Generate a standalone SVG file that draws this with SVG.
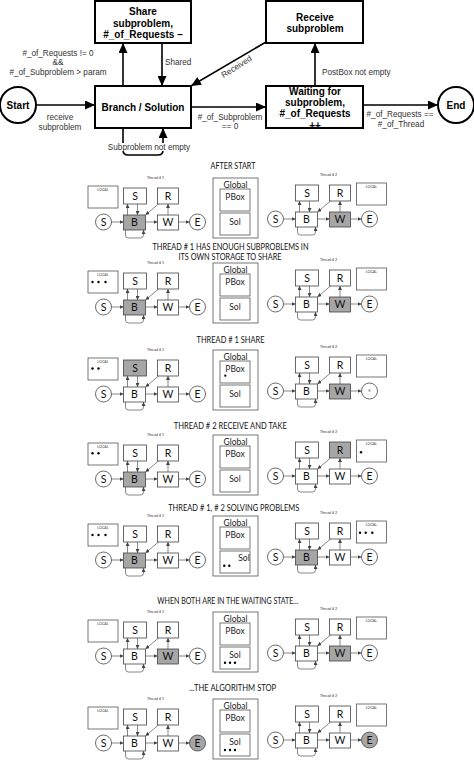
<svg xmlns="http://www.w3.org/2000/svg" xmlns:xlink="http://www.w3.org/1999/xlink" width="474" height="761" viewBox="0 0 474 761">
<style>
.bx{fill:#fff;stroke:#000;stroke-width:2}
.ln{fill:none;stroke:#000;stroke-width:1.6}
.bt{font-family:"Liberation Sans",Arial,sans-serif;font-weight:bold;font-size:10px;text-anchor:middle;fill:#000}
.lb{font-family:"Liberation Sans",Arial,sans-serif;font-size:8.2px;fill:#333}
.mid{text-anchor:middle}
.pm rect,.pm circle{fill:none;stroke:#444;stroke-width:0.8}
.pa{fill:none;stroke:#555;stroke-width:0.7}
.pl{font-family:Lato,"Open Sans",sans-serif;font-size:10.5px;text-anchor:middle;fill:#111}
.gb{fill:none;stroke:#555;stroke-width:0.8}
.gt{font-family:Lato,"Open Sans",sans-serif;font-size:8.5px;text-anchor:middle;fill:#222}
.tt{font-family:Lato,"Open Sans",sans-serif;font-size:8.5px;text-anchor:middle;fill:#111}
.tiny{font-family:Lato,"Open Sans",sans-serif;font-size:3.6px;text-anchor:middle;fill:#333}
.hl{fill:#a6a6a6;stroke:none}
.dot{fill:#000}
</style>
<defs>
<marker id="ah" markerUnits="userSpaceOnUse" markerWidth="10" markerHeight="9" refX="10" refY="4.5" orient="auto"><path d="M0,0 L10,4.5 L0,9 z" fill="#000"/></marker>
<marker id="sa" markerUnits="userSpaceOnUse" markerWidth="4" markerHeight="4" refX="4" refY="2" orient="auto"><path d="M0,0 L4,2 L0,4 z" fill="#444"/></marker>
<g id="thr" class="pm">
<circle cx="0" cy="0" r="8"/>
<rect x="20" y="-7" width="22" height="15"/>
<rect x="54" y="-7" width="21" height="15"/>
<circle cx="94" cy="0" r="8"/>
<rect x="20" y="-34" width="23" height="16"/>
<rect x="54" y="-34" width="21" height="16"/>
<path class="pa" d="M8 0H20" marker-end="url(#sa)"/>
<path class="pa" d="M42 0H54" marker-end="url(#sa)"/>
<path class="pa" d="M75 0H86" marker-end="url(#sa)"/>
<path class="pa" d="M24 -7V-18" marker-end="url(#sa)"/>
<path class="pa" d="M34 -18V-7" marker-end="url(#sa)"/>
<path class="pa" d="M55 -18L42 -7" marker-end="url(#sa)"/>
<path class="pa" d="M64.5 -7V-18" marker-end="url(#sa)"/>
<path class="pa" d="M22 8V13Q22 16 25 16H37Q40 16 40 13V8" marker-end="url(#sa)"/>
<text class="pl" x="0" y="3.8">S</text>
<text class="pl" x="31" y="3.8">B</text>
<text class="pl" x="64.5" y="3.8">W</text>
<text class="pl" x="31.5" y="-22.2">S</text>
<text class="pl" x="64.5" y="-22.2">R</text>
</g>
<g id="glob">
<rect class="gb" x="213" y="-44" width="45" height="60"/>
<text class="gt" x="235.5" y="-34.3">Global</text>
<rect class="gb" x="220" y="-33" width="30" height="22"/>
<text class="gt" x="235" y="-21.7">PBox</text>
<rect class="gb" x="220" y="-9" width="30" height="22"/>
</g>
</defs>
<rect width="474" height="761" fill="#fff"/>

<!-- state machine -->
<g id="edges">
<path class="ln" d="M36 105H95" marker-end="url(#ah)"/>
<path class="ln" d="M123 86V43" marker-end="url(#ah)"/>
<path class="ln" d="M162 43V86" marker-end="url(#ah)"/>
<path class="ln" d="M123 128V150Q123 155 128 155H158Q163 155 163 150V128" marker-end="url(#ah)"/>
<path class="ln" d="M191 107H266" marker-end="url(#ah)"/>
<path class="ln" d="M315 86V43" marker-end="url(#ah)"/>
<path class="ln" d="M266 42L191 86" marker-end="url(#ah)"/>
<path class="ln" d="M363 105H438" marker-end="url(#ah)"/>
</g>
<g id="start"><circle class="bx" cx="18" cy="105" r="18"/><text class="bt" x="18" y="109">Start</text></g>
<g id="end"><circle class="bx" cx="456" cy="105" r="18"/><text class="bt" x="456" y="109">End</text></g>
<g id="share"><rect class="bx" x="95" y="1" width="96" height="42"/><text class="bt" x="143" y="15">Share</text><text class="bt" x="143" y="27">subproblem,</text><text class="bt" x="143" y="38">#_of_Requests –</text></g>
<g id="receive"><rect class="bx" x="266" y="1" width="97" height="42"/><text class="bt" x="315" y="21">Receive</text><text class="bt" x="315" y="32">subproblem</text></g>
<g id="branch"><rect class="bx" x="95" y="86" width="96" height="42"/><text class="bt" x="143" y="111">Branch / Solution</text></g>
<g id="waiting"><rect class="bx" x="266" y="86" width="97" height="42"/><text class="bt" x="315" y="95">Waiting for</text><text class="bt" x="315" y="106">subproblem,</text><text class="bt" x="315" y="117">#_of_Requests</text><text class="bt" x="315" y="128.5">++</text></g>
<g id="labels">
<text class="lb mid" x="58" y="55.5">#_of_Requests != 0</text>
<text class="lb mid" x="58" y="64.5">&amp;&amp;</text>
<text class="lb mid" x="58" y="74.5">#_of_Subproblem &gt; param</text>
<text class="lb" x="165" y="64.5">Shared</text>
<text class="lb mid" x="60" y="120">receive</text>
<text class="lb mid" x="60" y="130">subproblem</text>
<rect x="106" y="143" width="86" height="8" fill="#fff"/>
<text class="lb mid" x="149" y="149.8">Subproblem not empty</text>
<text class="lb mid" x="230" y="119.5">#_of_Subproblem</text>
<text class="lb mid" x="230" y="129">== 0</text>
<text class="lb" x="322" y="74.5">PostBox not empty</text>
<text class="lb mid" transform="translate(238,69) rotate(-32)">Received</text>
<text class="lb mid" x="400" y="117">#_of_Requests ==</text>
<text class="lb mid" x="401" y="127">#_of_Thread</text>
</g>

<!-- Row 1 -->
<g id="row1">
<text class="tt" x="233" y="169" textLength="45" lengthAdjust="spacingAndGlyphs">AFTER START</text>
<g id="r1t1" transform="translate(103.5,222)"><rect class="hl" x="20" y="-7" width="22" height="15"/><use href="#thr"/><text class="pl" x="94" y="3.8">E</text><rect class="gb" x="-15.5" y="-36" width="30" height="22"/><text class="tiny" x="-0.5" y="-31.5">LOCAL</text><text class="tiny" x="52" y="-43">Thread # 1</text></g>
<g id="r1g" transform="translate(0,222)"><use href="#glob"/><text class="gt" x="235" y="3">Sol</text></g>
<g id="r1t2" transform="translate(275.5,219)"><rect class="hl" x="54" y="-7" width="21" height="15"/><use href="#thr"/><text class="pl" x="94" y="3.8">E</text><rect class="gb" x="81" y="-36" width="30" height="22"/><text class="tiny" x="96" y="-31.5">LOCAL</text><text class="tiny" x="53" y="-43">Thread # 2</text></g>
</g>

<!-- Row 2 -->
<g id="row2">
<text class="tt" x="230.5" y="249.7" textLength="156" lengthAdjust="spacingAndGlyphs">THREAD # 1 HAS ENOUGH SUBPROBLEMS IN</text>
<text class="tt" x="230" y="260.3" textLength="103" lengthAdjust="spacingAndGlyphs">ITS OWN STORAGE TO SHARE</text>
<g id="r2t1" transform="translate(103.5,307)"><rect class="hl" x="20" y="-7" width="22" height="15"/><use href="#thr"/><text class="pl" x="94" y="3.8">E</text><rect class="gb" x="-15.5" y="-36" width="30" height="22"/><text class="tiny" x="-0.5" y="-31.5">LOCAL</text><text class="tiny" x="52" y="-43">Thread # 1</text><circle class="dot" cx="-11" cy="-25" r="1.2"/><circle class="dot" cx="-5" cy="-25" r="1.2"/><circle class="dot" cx="2" cy="-25" r="1.2"/></g>
<g id="r2g" transform="translate(0,307)"><use href="#glob"/><text class="gt" x="235" y="3">Sol</text></g>
<g id="r2t2" transform="translate(275.5,304)"><rect class="hl" x="54" y="-7" width="21" height="15"/><use href="#thr"/><text class="pl" x="94" y="3.8">E</text><rect class="gb" x="81" y="-36" width="30" height="22"/><text class="tiny" x="96" y="-31.5">LOCAL</text><text class="tiny" x="53" y="-43">Thread # 2</text></g>
</g>

<!-- Row 3 -->
<g id="row3">
<text class="tt" x="230.5" y="343" textLength="68" lengthAdjust="spacingAndGlyphs">THREAD # 1  SHARE</text>
<g id="r3t1" transform="translate(103.5,394)"><rect class="hl" x="20" y="-34" width="23" height="16"/><use href="#thr"/><text class="pl" x="94" y="3.8">E</text><rect class="gb" x="-15.5" y="-36" width="30" height="22"/><text class="tiny" x="-0.5" y="-31.5">LOCAL</text><text class="tiny" x="52" y="-43">Thread # 1</text><circle class="dot" cx="-11" cy="-25.5" r="1.2"/><circle class="dot" cx="-5" cy="-25.5" r="1.2"/></g>
<g id="r3g" transform="translate(0,394)"><use href="#glob"/><text class="gt" x="235" y="3">Sol</text><circle class="dot" cx="225.3" cy="-18.3" r="1.1"/></g>
<g id="r3t2" transform="translate(275.5,391)"><rect class="hl" x="54" y="-7" width="21" height="15"/><use href="#thr"/><text class="tiny" x="94" y="1.3">E</text><rect class="gb" x="81" y="-36" width="30" height="22"/><text class="tiny" x="96" y="-31.5">LOCAL</text><text class="tiny" x="53" y="-43">Thread # 2</text></g>
</g>

<!-- Row 4 -->
<g id="row4">
<text class="tt" x="230.3" y="429" textLength="113" lengthAdjust="spacingAndGlyphs">THREAD # 2  RECEIVE AND TAKE</text>
<g id="r4t1" transform="translate(103.5,479)"><rect class="hl" x="20" y="-7" width="22" height="15"/><use href="#thr"/><text class="pl" x="94" y="3.8">E</text><rect class="gb" x="-15.5" y="-36" width="30" height="22"/><text class="tiny" x="-0.5" y="-31.5">LOCAL</text><text class="tiny" x="52" y="-43">Thread # 1</text><circle class="dot" cx="-11" cy="-25.7" r="1.2"/><circle class="dot" cx="-5" cy="-25.7" r="1.2"/></g>
<g id="r4g" transform="translate(0,479)"><use href="#glob"/><text class="gt" x="235" y="3">Sol</text></g>
<g id="r4t2" transform="translate(275.5,476)"><rect class="hl" x="54" y="-34" width="21" height="16"/><use href="#thr"/><text class="pl" x="94" y="3.8">E</text><rect class="gb" x="81" y="-36" width="30" height="22"/><text class="tiny" x="96" y="-31.5">LOCAL</text><text class="tiny" x="53" y="-43">Thread # 2</text><circle class="dot" cx="85.5" cy="-23.7" r="1.2"/></g>
</g>

<!-- Row 5 -->
<g id="row5">
<text class="tt" x="233.7" y="510.7" textLength="131" lengthAdjust="spacingAndGlyphs">THREAD # 1, # 2 SOLVING PROBLEMS</text>
<g id="r5t1" transform="translate(103.5,560)"><rect class="hl" x="20" y="-7" width="22" height="15"/><use href="#thr"/><text class="pl" x="94" y="3.8">E</text><rect class="gb" x="-15.5" y="-36" width="30" height="22"/><text class="tiny" x="-0.5" y="-31.5">LOCAL</text><text class="tiny" x="52" y="-43">Thread # 1</text><circle class="dot" cx="-11" cy="-25" r="1.2"/><circle class="dot" cx="-5" cy="-25" r="1.2"/><circle class="dot" cx="2" cy="-25" r="1.2"/></g>
<g id="r5g" transform="translate(0,560)"><use href="#glob"/><text class="gt" x="244" y="1">Sol</text><circle class="dot" cx="224.3" cy="5.7" r="1.2"/><circle class="dot" cx="229.3" cy="5.7" r="1.2"/></g>
<g id="r5t2" transform="translate(275.5,557)"><rect class="hl" x="20" y="-7" width="22" height="15"/><use href="#thr"/><text class="pl" x="94" y="3.8">E</text><rect class="gb" x="81" y="-36" width="30" height="22"/><text class="tiny" x="96" y="-31.5">LOCAL</text><text class="tiny" x="53" y="-43">Thread # 2</text><circle class="dot" cx="84.5" cy="-24.3" r="1.2"/><circle class="dot" cx="90.2" cy="-24.3" r="1.2"/><circle class="dot" cx="96.8" cy="-24.3" r="1.2"/></g>
</g>

<!-- Row 6 -->
<g id="row6">
<text class="tt" x="227.8" y="603.7" textLength="141" lengthAdjust="spacingAndGlyphs">WHEN BOTH ARE IN THE WAITING STATE...</text>
<g id="r6t1" transform="translate(103.5,656)"><rect class="hl" x="54" y="-7" width="21" height="15"/><use href="#thr"/><text class="pl" x="94" y="3.8">E</text><rect class="gb" x="-15.5" y="-36" width="30" height="22"/><text class="tiny" x="-0.5" y="-31.5">LOCAL</text><text class="tiny" x="52" y="-43">Thread # 1</text></g>
<g id="r6g" transform="translate(0,656)"><use href="#glob"/><text class="gt" x="235" y="2">Sol</text><circle class="dot" cx="225" cy="6.7" r="1.2"/><circle class="dot" cx="230" cy="6.7" r="1.2"/><circle class="dot" cx="235" cy="6.7" r="1.2"/></g>
<g id="r6t2" transform="translate(275.5,653)"><rect class="hl" x="54" y="-7" width="21" height="15"/><use href="#thr"/><text class="pl" x="94" y="3.8">E</text><rect class="gb" x="81" y="-36" width="30" height="22"/><text class="tiny" x="96" y="-31.5">LOCAL</text><text class="tiny" x="53" y="-43">Thread # 2</text></g>
</g>

<!-- Row 7 -->
<g id="row7">
<text class="tt" x="232.7" y="691.3" textLength="87" lengthAdjust="spacingAndGlyphs">...THE ALGORITHM STOP</text>
<g id="r7t1" transform="translate(103.5,743)"><circle class="hl" cx="94" cy="0" r="8"/><use href="#thr"/><text class="pl" x="94" y="3.8">E</text><rect class="gb" x="-15.5" y="-36" width="30" height="22"/><text class="tiny" x="-0.5" y="-31.5">LOCAL</text><text class="tiny" x="52" y="-43">Thread # 1</text></g>
<g id="r7g" transform="translate(0,743)"><use href="#glob"/><text class="gt" x="235" y="2">Sol</text><circle class="dot" cx="225" cy="7" r="1.2"/><circle class="dot" cx="230" cy="7" r="1.2"/><circle class="dot" cx="235" cy="7" r="1.2"/></g>
<g id="r7t2" transform="translate(275.5,740)"><circle class="hl" cx="94" cy="0" r="8"/><use href="#thr"/><text class="pl" x="94" y="3.8">E</text><rect class="gb" x="81" y="-36" width="30" height="22"/><text class="tiny" x="96" y="-31.5">LOCAL</text><text class="tiny" x="53" y="-43">Thread # 2</text></g>
</g>
</svg>
